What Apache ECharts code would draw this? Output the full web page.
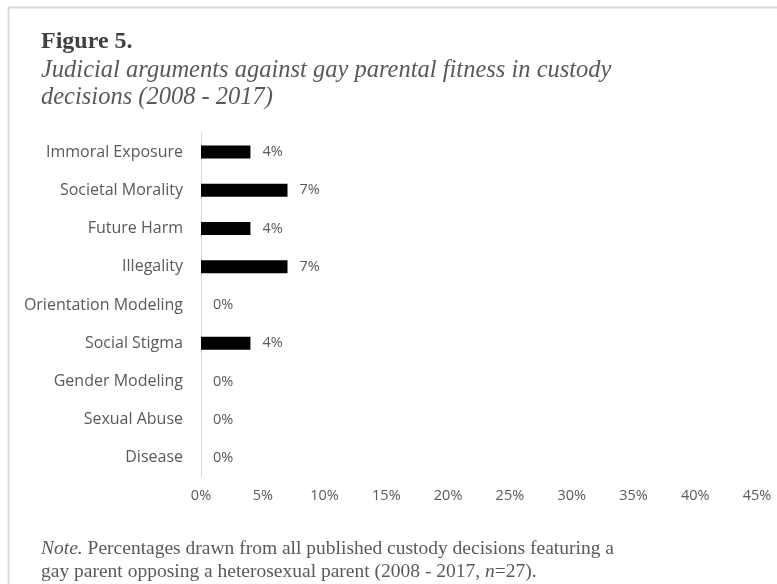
<!DOCTYPE html>
<html>
<head>
<meta charset="utf-8">
<script src="https://cdn.jsdelivr.net/npm/echarts@6/dist/echarts.min.js"></script>
<style>
  html, body { margin: 0; padding: 0; background: #fff; }
  #chart { width: 777px; height: 584px; }
</style>
</head>
<body>
<div id="chart"></div>
<script>
// Arguments listed top to bottom as they appear on the chart
const categories = [
  'Immoral Exposure', 'Societal Morality', 'Future Harm', 'Illegality',
  'Orientation Modeling', 'Social Stigma', 'Gender Modeling', 'Sexual Abuse', 'Disease'
];
// Share of decisions (%) using each argument
const percentages = [4, 7, 4, 7, 0, 4, 0, 0, 0];
// Value axis range and step (%)
const axisMin = 0;
const axisMax = 45;
const axisStep = 5;

const labelFont = '"Open Sans", Lato, sans-serif';
const serif = '"Liberation Serif", "DejaVu Serif", serif';
const grey = '#595959';

const chart = echarts.init(document.getElementById('chart'), null, { renderer: 'canvas' });

chart.setOption({
  backgroundColor: '#ffffff',
  animation: false,
  graphic: [
    {
      type: 'rect',
      shape: { x: 8.5, y: 7.5, width: 800, height: 600 },
      style: { fill: 'none', stroke: '#d9d9d9', lineWidth: 2 }
    },
    {
      type: 'text', left: 41, top: 30,
      style: { text: 'Figure 5.', font: 'bold 24px ' + serif, fill: '#404040' }
    },
    {
      type: 'text', left: 41, top: 57,
      style: {
        text: 'Judicial arguments against gay parental fitness in custody\ndecisions (2008 - 2017)',
        font: 'italic 24.5px ' + serif, fill: grey, lineHeight: 27
      }
    },
    {
      type: 'text', left: 41, top: 537,
      style: {
        text: '{i|Note.} Percentages drawn from all published custody decisions featuring a\ngay parent opposing a heterosexual parent (2008 - 2017, {i|n}=27).',
        font: '19.5px ' + serif, fill: grey, lineHeight: 23,
        rich: { i: { fontStyle: 'italic', fontFamily: serif, fontSize: 19.5, fill: grey } }
      }
    }
  ],
  grid: { left: 201, right: 20, top: 133, bottom: 107, containLabel: false },
  xAxis: {
    type: 'value',
    min: axisMin, max: axisMax, interval: axisStep,
    axisLine: { show: false },
    axisTick: { show: false },
    splitLine: { show: false },
    axisLabel: {
      formatter: v => v + '%',
      color: grey, fontFamily: labelFont, fontSize: 14.5, margin: 11
    }
  },
  yAxis: {
    type: 'category',
    data: categories,
    inverse: true,
    axisLine: { show: true, lineStyle: { color: '#d9d9d9', width: 1 } },
    axisTick: { show: false },
    axisLabel: { color: grey, fontFamily: labelFont, fontSize: 16, margin: 18 }
  },
  series: [{
    type: 'bar',
    data: percentages,
    barWidth: 13,
    itemStyle: { color: '#000000' },
    label: {
      show: true, position: 'right', distance: 12,
      formatter: p => p.value + '%',
      color: grey, fontFamily: labelFont, fontSize: 14.5
    }
  }]
});
</script>
</body>
</html>
